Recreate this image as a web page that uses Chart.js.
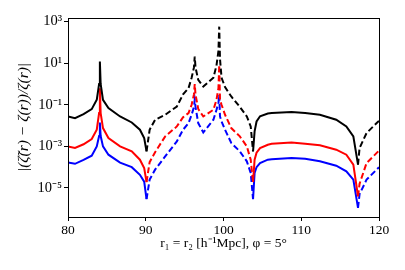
<!DOCTYPE html>
<html>
<head>
<meta charset="utf-8">
<script src="https://cdn.jsdelivr.net/npm/chart.js@4"></script>
<style>
  html, body { margin: 0; padding: 0; background: #fff; }
  #wrap { width: 405px; height: 270px; }
</style>
</head>
<body>
<div id="wrap"><canvas id="relChart" width="405" height="270"></canvas></div>
<script>
// r1 = r2 values (h^-1 Mpc)
const rValues = [80, 80.9, 82, 83.05, 83.7, 84.0, 84.1, 84.2, 84.5, 85.2, 86.7, 88.2, 89.25, 89.8, 90.1,
  90.5, 91.2, 92.5, 94.0, 94.8, 95.5, 95.9, 96.2, 96.3, 96.4, 96.75, 97.4, 98.7, 99.1, 99.35, 99.45,
  99.55, 99.75, 100.2, 101.0, 102.1, 103.0, 103.5, 103.8, 104.0, 104.25, 104.7, 105.7, 106.2, 108.75,
  110.5, 112.4, 114.5, 115.8, 116.7, 117.3, 117.5, 118.4, 119.9, 120];

// relative error, three curves
const blackValues = [2.75e-2, 2.29e-2, 3.55e-2, 6.17e-2, 1.74e-1, 1.0, 12.0, 1.0, 1.74e-1, 6.92e-2, 2.75e-2,
  1.41e-2, 6.31e-3, 2.51e-3, 5.75e-4,
  6.31e-3, 1.91e-2, 3.31e-2, 8.32e-2, 3.16e-1, 6.31e-1, 2.0, 6.3, 20.9, 6.3, 1.58, 7.59e-1, 2.0, 7.94,
  39.8, 575, 15.8, 2.0, 7.08e-1, 2.51e-1, 7.94e-2, 2.75e-2, 9.12e-3, 5.75e-4,
  5.25e-3, 1.58e-2, 2.82e-2, 3.80e-2, 3.98e-2, 4.47e-2, 3.98e-2, 3.31e-2, 1.91e-2, 9.12e-3, 3.02e-3,
  1.32e-4, 8.32e-4, 4.37e-3, 1.58e-2, 1.66e-2];

const redValues = [1.0e-3, 8.32e-4, 1.26e-3, 2.24e-3, 6.31e-3, 3.98e-2, 6.31e-1, 3.98e-2, 7.59e-3, 2.51e-3,
  1.0e-3, 5.75e-4, 2.29e-4, 9.12e-5, 1.91e-5,
  1.74e-4, 5.25e-4, 3.02e-3, 9.12e-3, 2.51e-2, 3.98e-2, 1.0e-1, 3.16e-1, 1.0, 3.16e-1, 6.31e-2, 2.75e-2,
  5.75e-2, 1.74e-1, 6.31e-1, 8.32, 1.74e-1, 1.0e-1, 3.31e-2, 7.59e-3, 3.02e-3, 1.0e-3, 2.29e-4, 1.91e-5,
  2.29e-4, 5.01e-4, 8.32e-4, 1.20e-3, 1.32e-3, 1.55e-3, 1.32e-3, 1.12e-3, 6.92e-4, 3.98e-4, 1.32e-4,
  3.98e-6, 1.58e-5, 1.58e-4, 5.75e-4, 6.31e-4];

const blueValues = [1.66e-4, 1.45e-4, 2.24e-4, 3.55e-4, 1.0e-3, 3.16e-3, 1.41e-2, 3.16e-3, 1.0e-3, 3.98e-4,
  1.66e-4, 1.0e-4, 4.27e-5, 2.0e-5, 2.88e-6,
  2.51e-5, 7.59e-5, 3.31e-4, 1.74e-3, 6.31e-3, 1.32e-2, 3.31e-2, 7.94e-2, 1.74e-1, 7.94e-2, 1.32e-2,
  4.68e-3, 1.91e-2, 5.75e-2, 1.26e-1, 3.02e-1, 2.75e-2, 1.58e-2, 6.31e-3, 1.45e-3, 5.75e-4, 1.91e-4,
  5.25e-5, 2.88e-6,
  5.25e-5, 1.0e-4, 1.58e-4, 2.29e-4, 2.40e-4, 2.75e-4, 2.51e-4, 1.91e-4, 1.17e-4, 6.31e-5, 2.51e-5,
  1.10e-6, 5.01e-6, 2.51e-5, 9.12e-5, 1.0e-4];

// ranges where the curves are drawn dashed
const dashedRanges = [[90.1, 103.8], [117.3, 120]];

const xTicks = [80, 90, 100, 110, 120];
const yTicks = [1e-5, 1e-3, 1e-1, 1e1, 1e3];
const yTickLabels = ['10⁻⁵', '10⁻³', '10⁻¹', '10¹', '10³'];

const font = 'Liberation Serif';

function toPoints(vals) {
  return rValues.map((r, i) => ({ x: r, y: vals[i] }));
}

function isDashed(x0, x1) {
  return dashedRanges.some(([a, b]) => x0 >= a - 1e-9 && x1 <= b + 1e-9);
}

function makeSet(vals, color) {
  return {
    data: toPoints(vals),
    borderColor: color,
    borderWidth: 2,
    pointRadius: 0,
    tension: 0,
    fill: false,
    segment: {
      borderDash: c => isDashed(c.p0.parsed.x, c.p1.parsed.x) ? [6, 3] : undefined
    }
  };
}

// frame around the plot area, like matplotlib spines
const frame = {
  id: 'frame',
  afterDraw(chart) {
    const a = chart.chartArea, g = chart.ctx;
    g.save();
    g.strokeStyle = '#000';
    g.lineWidth = 1;
    g.strokeRect(a.left + 0.5, a.top + 0.5, a.right - a.left, a.bottom - a.top);
    g.restore();
  }
};

const ctx = document.getElementById('relChart').getContext('2d');
new Chart(ctx, {
  type: 'line',
  data: {
    datasets: [
      makeSet(blackValues, '#000000'),
      makeSet(redValues, '#ff0000'),
      makeSet(blueValues, '#0000ff')
    ]
  },
  options: {
    responsive: false,
    animation: false,
    devicePixelRatio: 1,
    layout: { padding: { left: 0, right: 26, top: 18, bottom: 18 } },
    plugins: { legend: { display: false }, tooltip: { enabled: false } },
    scales: {
      x: {
        type: 'linear',
        min: 80,
        max: 120,
        afterBuildTicks: s => { s.ticks = xTicks.map(v => ({ value: v })); },
        afterFit: s => { s.height = 35; },
        grid: { drawOnChartArea: false, drawTicks: true, tickLength: 4, color: '#000' },
        border: { display: false },
        ticks: { color: '#000', font: { family: font, size: 13.5 }, padding: 1, maxRotation: 0 },
        title: {
          display: true,
          text: 'r₁ = r₂ [h⁻¹Mpc], φ = 5°',
          color: '#000',
          font: { family: font, size: 13.5 },
          padding: { top: 0, bottom: 0 }
        }
      },
      y: {
        type: 'logarithmic',
        min: 4e-7,
        max: 1.5e3,
        afterBuildTicks: s => { s.ticks = yTicks.map(v => ({ value: v })); },
        afterFit: s => { s.width = 68; },
        grid: { drawOnChartArea: false, drawTicks: true, tickLength: 4, color: '#000' },
        border: { display: false },
        ticks: {
          color: '#000',
          font: { family: font, size: 14.5 },
          padding: 2,
          callback: (v) => {
            const i = yTicks.findIndex(t => Math.abs(Math.log10(t) - Math.log10(v)) < 1e-6);
            return i >= 0 ? yTickLabels[i] : '';
          }
        },
        title: {
          display: true,
          text: '|(ζ̃(r) − ζ(r))/ζ(r)|',
          color: '#000',
          font: { family: font, size: 15.5, style: 'italic' },
          padding: { top: 15, bottom: 2 }
        }
      }
    }
  },
  plugins: [frame]
});
</script>
</body>
</html>
